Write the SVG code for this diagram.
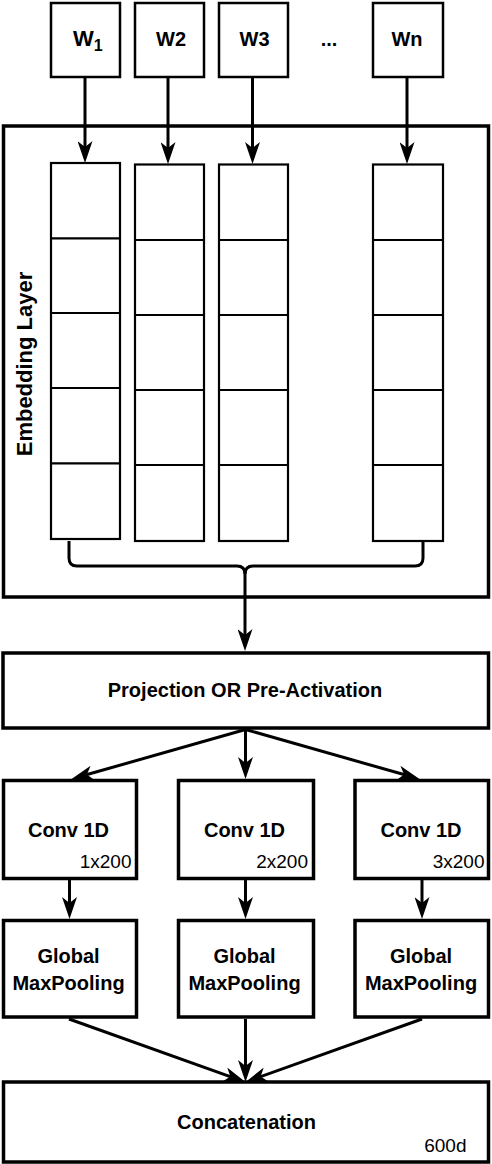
<svg xmlns="http://www.w3.org/2000/svg" width="492" height="1164" viewBox="0 0 492 1164">
<style>
  .box { fill: #fff; stroke: #000; stroke-width: 3.5; }
  .wbox { fill: #fff; stroke: #000; stroke-width: 2.5; }
  .cell { fill: #fff; stroke: #000; stroke-width: 2.2; }
  .conn { fill: none; stroke: #000; stroke-width: 3; }
  .b { font-family: "Liberation Sans", Arial, Helvetica, sans-serif; font-weight: bold; fill: #000; }
  .r { font-family: "Liberation Sans", Arial, Helvetica, sans-serif; font-weight: normal; fill: #000; }
</style>
<defs>
  <marker id="arr" viewBox="0 0 22 15" refX="14" refY="7.5" markerWidth="22" markerHeight="15" markerUnits="userSpaceOnUse" orient="auto">
    <path d="M0,0 L22,7.5 L0,15 L6,7.5 Z" fill="#000"/>
  </marker>
</defs>
<rect width="492" height="1164" fill="#fff"/>

<g id="embedding-layer">
  <rect class="box" x="3.5" y="126" width="485" height="471"/>
  <text class="b" font-size="22" text-anchor="middle" transform="translate(32,364) rotate(-90)">Embedding Layer</text>
</g>

<g id="w1">
  <rect class="wbox" x="51" y="3" width="69" height="74"/>
  <text class="b" x="73" y="46" font-size="22">W<tspan font-size="16" dy="4.7">1</tspan></text>
</g>
<g id="w2">
  <rect class="wbox" x="135" y="3" width="69" height="74"/>
  <text class="b" x="171" y="46" font-size="20" text-anchor="middle">W2</text>
</g>
<g id="w3">
  <rect class="wbox" x="219" y="3" width="69" height="74"/>
  <text class="b" x="254.5" y="46" font-size="20" text-anchor="middle">W3</text>
</g>
<g id="dots">
  <text class="b" x="329" y="46" font-size="20" text-anchor="middle">...</text>
</g>
<g id="wn">
  <rect class="wbox" x="373" y="3" width="70" height="74"/>
  <text class="b" x="407" y="46" font-size="20" text-anchor="middle">Wn</text>
</g>

<g id="emb1">
  <rect class="cell" x="51" y="163" width="69" height="376"/>
  <path class="cell" d="M51,238.3 H120 M51,313 H120 M51,388 H120 M51,463.3 H120"/>
</g>
<g id="emb2">
  <rect class="cell" x="135" y="164.5" width="69" height="376.5"/>
  <path class="cell" d="M135,240 H204 M135,315 H204 M135,390 H204 M135,465 H204"/>
</g>
<g id="emb3">
  <rect class="cell" x="219" y="164.5" width="69" height="376.5"/>
  <path class="cell" d="M219,240 H288 M219,315 H288 M219,390 H288 M219,465 H288"/>
</g>
<g id="embn">
  <rect class="cell" x="373" y="164.5" width="70" height="376.5"/>
  <path class="cell" d="M373,240 H443 M373,315 H443 M373,390 H443 M373,465 H443"/>
</g>

<g id="projection">
  <rect class="box" x="3" y="653" width="485.5" height="75"/>
  <text class="b" x="245" y="697" font-size="20" text-anchor="middle">Projection OR Pre-Activation</text>
</g>

<g id="conv1">
  <rect class="box" x="3.5" y="780.5" width="133" height="98"/>
  <text class="b" x="68.5" y="836.5" font-size="20" text-anchor="middle">Conv 1D</text>
  <text class="r" x="131.5" y="867.5" font-size="19" text-anchor="end">1x200</text>
</g>
<g id="conv2">
  <rect class="box" x="178.5" y="780.5" width="135" height="98"/>
  <text class="b" x="244.5" y="836.5" font-size="20" text-anchor="middle">Conv 1D</text>
  <text class="r" x="308" y="867.5" font-size="19" text-anchor="end">2x200</text>
</g>
<g id="conv3">
  <rect class="box" x="355" y="780.5" width="133.5" height="98"/>
  <text class="b" x="421" y="836.5" font-size="20" text-anchor="middle">Conv 1D</text>
  <text class="r" x="484.5" y="867.5" font-size="19" text-anchor="end">3x200</text>
</g>

<g id="pool1">
  <rect class="box" x="3.5" y="920.5" width="133" height="96.5"/>
  <text class="b" x="68.5" y="963" font-size="20" text-anchor="middle">Global</text>
  <text class="b" x="68.5" y="990" font-size="20" text-anchor="middle">MaxPooling</text>
</g>
<g id="pool2">
  <rect class="box" x="178.5" y="920.5" width="135" height="96.5"/>
  <text class="b" x="244.5" y="963" font-size="20" text-anchor="middle">Global</text>
  <text class="b" x="244.5" y="990" font-size="20" text-anchor="middle">MaxPooling</text>
</g>
<g id="pool3">
  <rect class="box" x="355" y="920.5" width="133.5" height="96.5"/>
  <text class="b" x="421" y="963" font-size="20" text-anchor="middle">Global</text>
  <text class="b" x="421" y="990" font-size="20" text-anchor="middle">MaxPooling</text>
</g>

<g id="concatenation">
  <rect class="box" x="3.5" y="1082" width="485" height="80"/>
  <text class="b" x="246.5" y="1129" font-size="20" text-anchor="middle">Concatenation</text>
  <text class="r" x="466.5" y="1151.5" font-size="19" text-anchor="end">600d</text>
</g>

<g id="connectors">
  <line class="conn" x1="85" y1="78" x2="85" y2="155" marker-end="url(#arr)"/>
  <line class="conn" x1="168" y1="78" x2="168" y2="156" marker-end="url(#arr)"/>
  <line class="conn" x1="252.5" y1="78" x2="252.5" y2="156" marker-end="url(#arr)"/>
  <line class="conn" x1="407" y1="78" x2="407" y2="156" marker-end="url(#arr)"/>
  <path class="conn" d="M69,541 V558 Q69,566 77,566 H237 Q245,566 245,574 Q245,566 253,566 H415 Q423,566 423,558 V541"/>
  <line class="conn" x1="245" y1="570" x2="245" y2="643" marker-end="url(#arr)"/>
  <line class="conn" x1="245.5" y1="729.5" x2="79.2" y2="776.8" marker-end="url(#arr)"/>
  <line class="conn" x1="245.5" y1="729.5" x2="245.5" y2="771" marker-end="url(#arr)"/>
  <line class="conn" x1="245.5" y1="729.5" x2="411.8" y2="776.8" marker-end="url(#arr)"/>
  <line class="conn" x1="69.5" y1="880" x2="69.5" y2="911" marker-end="url(#arr)"/>
  <line class="conn" x1="245.5" y1="880" x2="245.5" y2="911" marker-end="url(#arr)"/>
  <line class="conn" x1="422" y1="880" x2="422" y2="911" marker-end="url(#arr)"/>
  <line class="conn" x1="69" y1="1019" x2="237.9" y2="1079.3" marker-end="url(#arr)"/>
  <line class="conn" x1="245.5" y1="1019" x2="245.5" y2="1074" marker-end="url(#arr)"/>
  <line class="conn" x1="422" y1="1019" x2="253.1" y2="1079.3" marker-end="url(#arr)"/>
</g>
</svg>
